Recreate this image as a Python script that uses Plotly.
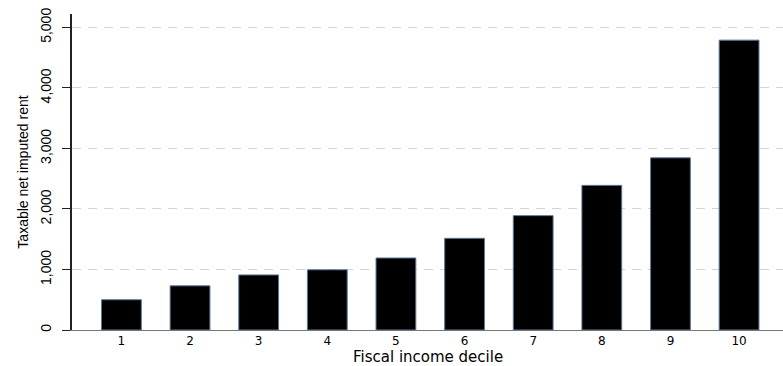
import plotly.graph_objects as go

deciles = [1, 2, 3, 4, 5, 6, 7, 8, 9, 10]
values = [500, 730, 910, 995, 1190, 1515, 1890, 2390, 2845, 4790]
y_ticks = [0, 1000, 2000, 3000, 4000, 5000]
y_tick_labels = ["0", "1,000", "2,000", "3,000", "4,000", "5,000"]

fig = go.Figure()
fig.add_trace(go.Bar(
    x=deciles, y=values, width=0.58,
    marker=dict(color="black", line=dict(color="#5a7a9a", width=1)),
))

fig.update_layout(
    width=783, height=366,
    margin=dict(l=72, r=0, t=14, b=36),
    plot_bgcolor="white", paper_bgcolor="white",
    showlegend=False,
    font=dict(family="Liberation Sans, Arial, sans-serif", color="black"),
    xaxis=dict(
        range=[0.28, 10.64],
        tickmode="array", tickvals=deciles, ticktext=[str(d) for d in deciles],
        showgrid=False, zeroline=False,
        showline=True, linecolor="#777777", linewidth=1,
        ticks="", tickfont=dict(family="DejaVu Sans", size=12),
        ticklabelstandoff=0,
    ),
    yaxis=dict(
        range=[0, 5222],
        tickmode="array", tickvals=y_ticks, ticktext=y_tick_labels,
        tickangle=-90, tickfont=dict(size=14),
        ticks="outside", ticklen=8, tickcolor="#222222", tickwidth=1,
        ticklabelstandoff=6,
        showline=True, linecolor="#222222", linewidth=1.5,
        showgrid=True, gridcolor="#d4d4d4", gridwidth=1, griddash="9px,7px",
        zeroline=False,
        title=dict(text="Taxable net imputed rent", font=dict(size=14), standoff=6),
    ),
    annotations=[dict(
        text="Fiscal income decile", xref="paper", yref="paper",
        x=0.5, y=0, xanchor="center", yanchor="bottom", yshift=-37,
        showarrow=False, borderpad=0, font=dict(family="DejaVu Sans", size=15),
    )],
)

fig.write_html("out.html")
